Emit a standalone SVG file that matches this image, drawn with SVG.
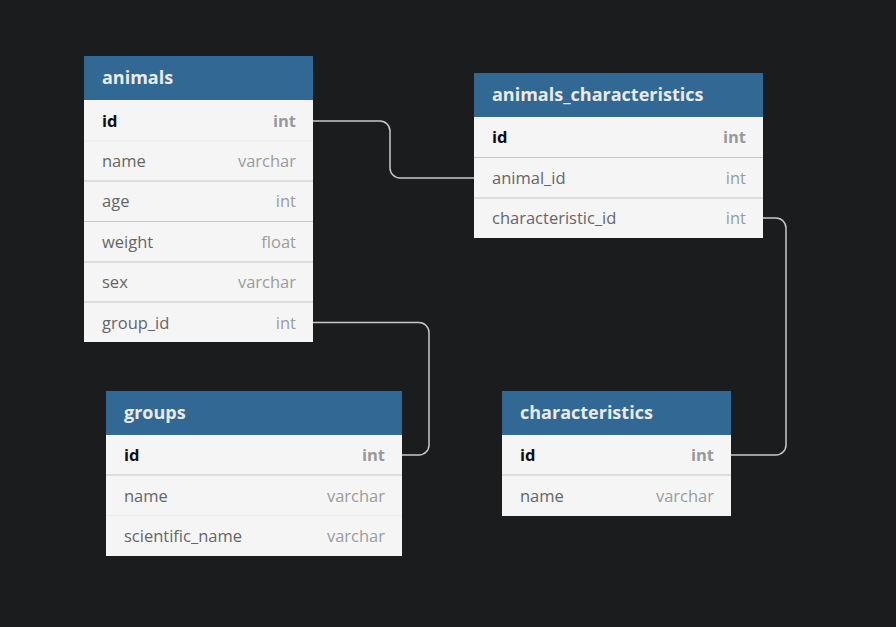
<svg xmlns="http://www.w3.org/2000/svg" width="896" height="627" viewBox="0 0 896 627">
<style>
.bg{fill:#1b1c1e}
.hd{fill:#316894}
.body{fill:#f5f5f5}
.ht{font-family:"Open Sans","Noto Sans",sans-serif;font-weight:bold;font-size:18px;fill:#eaeaea}
.fn{font-family:"Open Sans","Noto Sans",sans-serif;font-size:16.5px;fill:#666}
.ft{font-family:"Open Sans","Noto Sans",sans-serif;font-size:16.5px;fill:#9c9c9c;text-anchor:end}
.pk{font-weight:bold;fill:#111}
.pkt{font-weight:bold;fill:#999}
.sep{stroke:#c6c6c6;stroke-width:1.2}
.sepf{stroke:#ebebeb;stroke-width:1}
.conn{fill:none;stroke:#c8c8c8;stroke-width:1.5}
</style>
<rect class="bg" width="896" height="627"/>
<g id="connectors">
<path class="conn" d="M313,121 H380 A10,10 0 0 1 390,131 V168 A10,10 0 0 0 400,178 H474"/>
<path class="conn" d="M313,322.5 H419 A10,10 0 0 1 429,332.5 V445 A10,10 0 0 1 419,455 H402"/>
<path class="conn" d="M763,218 H776 A10,10 0 0 1 786,228 V445 A10,10 0 0 1 776,455 H731"/>
</g>
<g id="animals">
<rect class="body" x="84" y="100" width="229" height="242"/>
<rect class="hd" x="84" y="56" width="229" height="44"/>
<text class="ht" x="102" y="84">animals</text>
<line class="sepf" x1="84" y1="141" x2="313" y2="141"/>
<line class="sep" x1="84" y1="181" x2="313" y2="181"/>
<line class="sep" x1="84" y1="221.5" x2="313" y2="221.5"/>
<line class="sep" x1="84" y1="262" x2="313" y2="262"/>
<line class="sep" x1="84" y1="302" x2="313" y2="302"/>
<text class="fn pk" x="102" y="127">id</text><text class="ft pkt" x="296" y="127">int</text>
<text class="fn" x="102" y="167">name</text><text class="ft" x="296" y="167">varchar</text>
<text class="fn" x="102" y="207">age</text><text class="ft" x="296" y="207">int</text>
<text class="fn" x="102" y="248">weight</text><text class="ft" x="296" y="248">float</text>
<text class="fn" x="102" y="288">sex</text><text class="ft" x="296" y="288">varchar</text>
<text class="fn" x="102" y="329">group_id</text><text class="ft" x="296" y="329">int</text>
</g>
<g id="animals_characteristics">
<rect class="body" x="474" y="117" width="289" height="121"/>
<rect class="hd" x="474" y="73" width="289" height="44"/>
<text class="ht" x="492" y="101">animals_characteristics</text>
<line class="sep" x1="474" y1="157.5" x2="763" y2="157.5"/>
<line class="sep" x1="474" y1="198" x2="763" y2="198"/>
<text class="fn pk" x="492" y="143">id</text><text class="ft pkt" x="746" y="143">int</text>
<text class="fn" x="492" y="184">animal_id</text><text class="ft" x="746" y="184">int</text>
<text class="fn" x="492" y="224">characteristic_id</text><text class="ft" x="746" y="224">int</text>
</g>
<g id="groups">
<rect class="body" x="106" y="435" width="296" height="121"/>
<rect class="hd" x="106" y="391" width="296" height="44"/>
<text class="ht" x="124" y="419">groups</text>
<line class="sep" x1="106" y1="475" x2="402" y2="475"/>
<line class="sepf" x1="106" y1="515.5" x2="402" y2="515.5"/>
<text class="fn pk" x="124" y="461">id</text><text class="ft pkt" x="385" y="461">int</text>
<text class="fn" x="124" y="502">name</text><text class="ft" x="385" y="502">varchar</text>
<text class="fn" x="124" y="542">scientific_name</text><text class="ft" x="385" y="542">varchar</text>
</g>
<g id="characteristics">
<rect class="body" x="502" y="435" width="229" height="81"/>
<rect class="hd" x="502" y="391" width="229" height="44"/>
<text class="ht" x="520" y="419">characteristics</text>
<line class="sep" x1="502" y1="475" x2="731" y2="475"/>
<text class="fn pk" x="520" y="461">id</text><text class="ft pkt" x="714" y="461">int</text>
<text class="fn" x="520" y="502">name</text><text class="ft" x="714" y="502">varchar</text>
</g>
</svg>
